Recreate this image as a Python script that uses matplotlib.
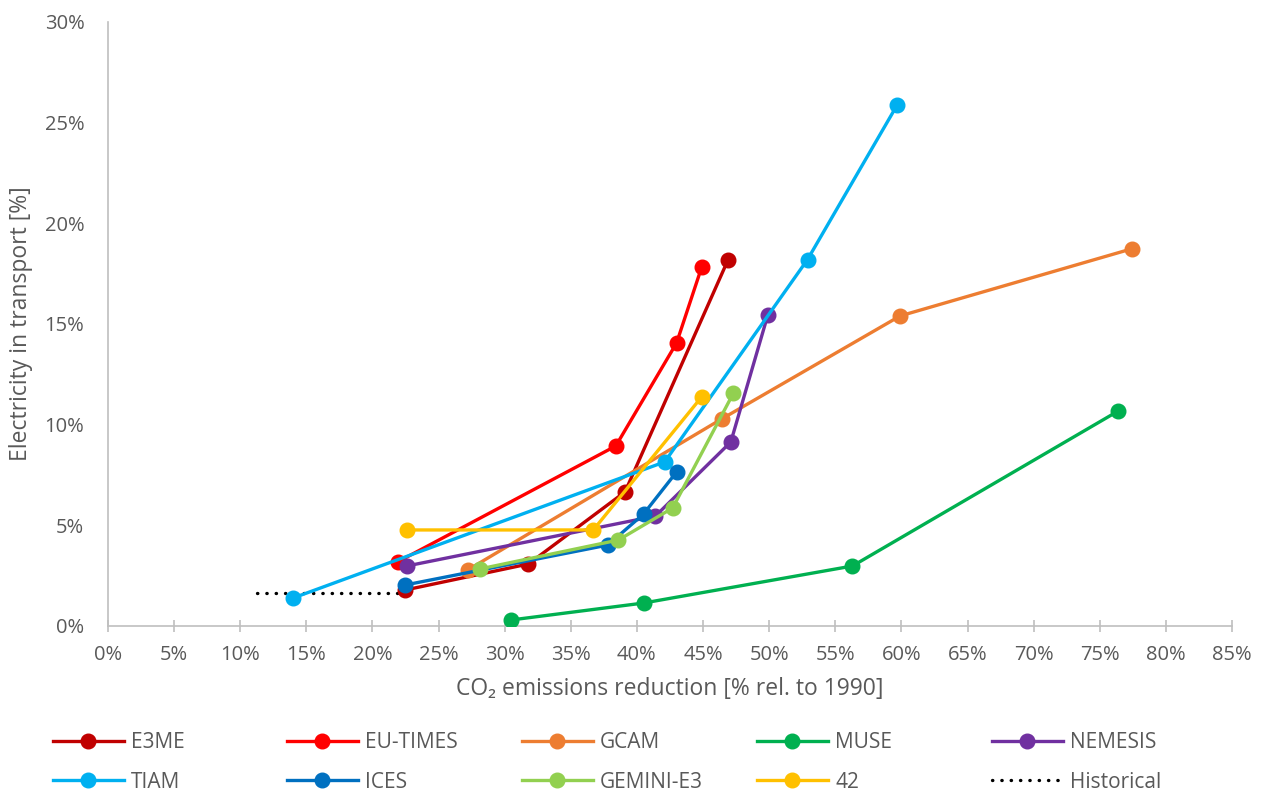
import matplotlib.pyplot as plt
from matplotlib.ticker import MultipleLocator, FuncFormatter

plt.rcParams['font.family'] = ['Open Sans', 'DejaVu Sans']

# x: CO2 emissions reduction [%], y: electricity in transport [%]
e3me_x = [22.5, 31.8, 39.1, 46.9]
e3me_y = [1.79, 3.08, 6.66, 18.2]
eutimes_x = [21.9, 38.4, 43.0, 44.9]
eutimes_y = [3.18, 8.94, 14.06, 17.83]
gcam_x = [27.2, 46.4, 59.9, 77.4]
gcam_y = [2.78, 10.28, 15.4, 18.73]
muse_x = [30.5, 40.5, 56.3, 76.4]
muse_y = [0.3, 1.14, 2.98, 10.68]
nemesis_x = [22.6, 41.4, 47.1, 49.9]
nemesis_y = [2.98, 5.46, 9.14, 15.45]
tiam_x = [14.0, 42.1, 52.9, 59.7]
tiam_y = [1.39, 8.15, 18.2, 25.9]
ices_x = [22.5, 37.8, 40.5, 43.0]
ices_y = [2.04, 4.02, 5.56, 7.65]
gemini_x = [28.1, 38.6, 42.7, 47.3]
gemini_y = [2.83, 4.27, 5.86, 11.57]
m42_x = [22.6, 36.7, 44.9]
m42_y = [4.77, 4.77, 11.38]
hist_x = [11.3, 22.5]
hist_y = [1.64, 1.64]

series = [
    ('E3ME', e3me_x, e3me_y, '#C00000'),
    ('EU-TIMES', eutimes_x, eutimes_y, '#FF0000'),
    ('GCAM', gcam_x, gcam_y, '#ED7D31'),
    ('MUSE', muse_x, muse_y, '#00B050'),
    ('NEMESIS', nemesis_x, nemesis_y, '#7030A0'),
    ('TIAM', tiam_x, tiam_y, '#00B0F0'),
    ('ICES', ices_x, ices_y, '#0070C0'),
    ('GEMINI-E3', gemini_x, gemini_y, '#92D050'),
    ('42', m42_x, m42_y, '#FFC000'),
]

fig = plt.figure(figsize=(12.64, 7.94), dpi=100)
ax = fig.add_axes([0.0854, 0.2116, 0.8893, 0.7607])

handles = []
for name, xs, ys, col in series:
    h, = ax.plot(xs, ys, color=col, linewidth=2.4, marker='o', markersize=10.5,
                 label=name, zorder=3)
    handles.append(h)
h, = ax.plot(hist_x, hist_y, color='black', linestyle=(0, (0.1, 2.7)),
             dash_capstyle='round', linewidth=2.4, label='Historical', zorder=2)
handles.append(h)
names = [s[0] for s in series] + ['Historical']

ax.set_xlim(0, 85)
ax.set_ylim(0, 30)
ax.xaxis.set_major_locator(MultipleLocator(5))
ax.yaxis.set_major_locator(MultipleLocator(5))
ax.xaxis.set_major_formatter(FuncFormatter(lambda v, p: f'{v:.0f}%'))
ax.yaxis.set_major_formatter(FuncFormatter(lambda v, p: f'{v:.0f}%'))

for s in ['top', 'right']:
    ax.spines[s].set_visible(False)
for s in ['left', 'bottom']:
    ax.spines[s].set_color('#BFBFBF')
    ax.spines[s].set_linewidth(1.2)
ax.tick_params(axis='x', colors='#595959', labelsize=14.5, length=8,
               direction='inout', color='#BFBFBF', width=1.2, pad=10)
ax.tick_params(axis='y', colors='#595959', labelsize=14.5, length=0, pad=17)

ax.set_xlabel('CO₂ emissions reduction [% rel. to 1990]', fontsize=16.5,
              color='#595959', labelpad=8)
ax.set_ylabel('Electricity in transport [%]', fontsize=16.5,
              color='#595959', labelpad=8)
ax.yaxis.set_label_coords(-0.0665, 0.5)

# legend: 2 rows x 5 equally spaced columns
col_x = [53, 287, 522, 757, 992]
row_y = [743, 782]
for i, (h, name) in enumerate(zip(handles, names)):
    r, c = divmod(i, 5)
    fig.legend([h], [name], loc='center left',
               bbox_to_anchor=(col_x[c] / 1264, 1 - row_y[r] / 794),
               frameon=False, fontsize=15, borderpad=0, borderaxespad=0,
               handlelength=3.4, handletextpad=0.35, labelcolor='#595959')

fig.savefig('out.png', dpi=100)
